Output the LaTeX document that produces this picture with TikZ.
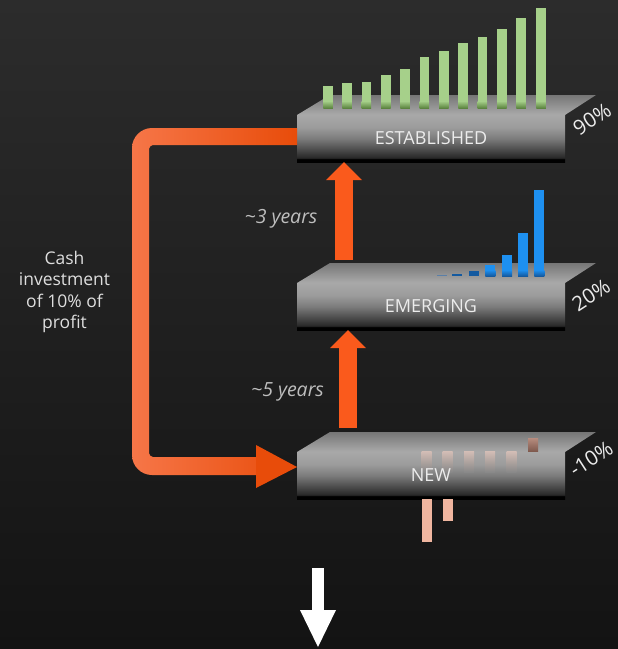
\documentclass[tikz,border=0pt]{standalone}
\usepackage{fontspec}
\setmainfont{Open Sans}
\usetikzlibrary{arrows.meta}
\definecolor{bgtop}{RGB}{44,44,44}
\definecolor{bgbot}{RGB}{19,19,19}
\definecolor{ftopA}{RGB}{168,168,168}
\definecolor{ftopB}{RGB}{156,156,156}
\definecolor{fmid}{RGB}{124,124,124}
\definecolor{fbot}{RGB}{40,40,40}
\definecolor{tback}{RGB}{118,118,118}
\definecolor{tfront}{RGB}{170,170,170}
\definecolor{labc}{RGB}{236,236,236}
\definecolor{txtc}{RGB}{222,222,222}
\definecolor{yrc}{RGB}{190,190,190}
\definecolor{orA}{RGB}{250,90,28}
\definecolor{loopL}{RGB}{246,118,72}
\definecolor{loopR}{RGB}{232,76,10}
\definecolor{gLight}{RGB}{166,208,138}
\definecolor{gDark}{RGB}{92,132,64}
\definecolor{bLight}{RGB}{30,144,240}
\definecolor{bDark}{RGB}{20,90,160}
\definecolor{bGrey}{RGB}{90,127,168}
\definecolor{pLight}{RGB}{240,182,160}
\definecolor{pFade}{RGB}{212,190,182}
\definecolor{pBrown}{RGB}{170,120,104}
\pgfdeclareverticalshading{frontface}{100bp}{color(0bp)=(black); color(28bp)=(black); color(29.5bp)=(fbot); color(50bp)=(fmid); color(62bp)=(ftopB); color(75bp)=(ftopA); color(100bp)=(ftopA)}
\begin{document}
\begin{tikzpicture}[x=1pt,y=-1pt,
  front/.style={shade, shading=frontface, minimum width=268pt, minimum height=47pt, inner sep=0pt},
  blocklabel/.style={text=labc, inner sep=0pt, font=\fontsize{18}{20}\selectfont},
  topface/.style={top color=tback, bottom color=tfront},
  pct/.style={text=labc, rotate=33, font=\fontsize{20.5}{24}\selectfont, inner sep=0pt},
  yrs/.style={text=yrc, font=\itshape\fontsize{19.5}{22}\selectfont, anchor=base, inner sep=0pt},
  oarrow/.style={draw=orA, line width=18pt, -{Triangle[width=36pt,length=18pt,line width=0pt]}},
]
\useasboundingbox (0,0) rectangle (618,649);
\shade[top color=bgtop,bottom color=bgbot] (0,0) rectangle (618,649);

% blocks
\foreach \nm/\yt in {est/115, emg/283, new/452}{
  \shade[topface] (297,\yt) -- (330,\yt-20) -- (596,\yt-20) -- (565,\yt) -- cycle;
  \node[front] (\nm) at (431,\yt+23.5) {};
}
\node[pct] (p90) at (592,119) {90\%};
\node[pct] (p20) at (591,295) {20\%};
\node[pct] (p10) at (591,459) {-10\%};

% green bars
\foreach \x/\t in {323.3/86,342.3/83.3,361.7/81.7,381/74.7,400.3/69,419.7/57.3,439/50.7,458.3/43.3,477.7/36.7,497/28.7,516.3/17.7,536.3/8.3}{
  \fill[gLight] (\x,\t) rectangle (\x+9.5,108);
  \shade[top color=gLight,bottom color=gDark] (\x,101) rectangle (\x+9.5,108);
}
% blue bars
\fill[bGrey] (436.7,275) rectangle (446.7,276.3);
\fill[bDark] (452.3,274.3) rectangle (462.3,276);
\fill[bDark] (469,271) rectangle (479,276);
\foreach \x/\t in {485.3/265.3,502/254.7,518/233.3,534.3/190}{
  \fill[bLight] (\x,\t) rectangle (\x+10,276);
  \shade[top color=bLight,bottom color=bDark] (\x,270) rectangle (\x+10,276);
}
% pink bars
\foreach \x in {421.7,442.7,464,485,506.7}{
  \shade[top color=pFade, bottom color=fmid!60!ftopB] (\x,451) rectangle (\x+10,472);
}
\shade[top color=pBrown!85!white, bottom color=pBrown!75!black] (528,438) rectangle (538,451);
\fill[pLight] (421.7,499) rectangle (431.7,541.7);
\fill[pLight] (442.7,499) rectangle (452.7,520.7);

% block labels
\node[blocklabel] (estlab) at (est) {ESTABLISHED};
\node[blocklabel] (emglab) at (emg) {EMERGING};
\node[blocklabel] (newlab) at (new) {NEW};

% vertical arrows
\coordinate (a1) at (344,260);
\draw[oarrow] (a1) -- (a1 |- est.south);
\coordinate (a2) at (348,428);
\draw[oarrow] (a2) -- (a2 |- emg.south);

% loop arrow
\shade[left color=loopL, right color=loopR] (297,128) -- (152,128) .. controls (141,128) and (132,137) .. (132,148) -- (132,455) .. controls (132,466) and (141,475) .. (152,475) -- (258,475) -- (258,457) -- (153,457) .. controls (151,457) and (149,455) .. (149,453) -- (149,149) .. controls (149,147) and (151,145) .. (153,145) -- (297,145) -- cycle;
\coordinate (lt) at (297,467);
\fill[loopR] (256,445) -- (lt) -- (256,488) -- cycle;

% texts
\node[text=txtc, align=center, font=\fontsize{17.5}{21.5}\selectfont, inner sep=0pt] (cash) at (64.5,292) {Cash\\investment\\of 10\% of\\profit};
\node[yrs] (y3) at (281,223.3) {\textasciitilde3 years};
\node[yrs] (y5) at (287.5,396.7) {\textasciitilde5 years};

% white arrow
\coordinate (w1) at (318,568);
\coordinate (w2) at (318,647);
\draw[white, line width=12.3pt, -{Triangle[width=36pt,length=37pt,line width=0pt]}] (w1) -- (w2);
\end{tikzpicture}
\end{document}
